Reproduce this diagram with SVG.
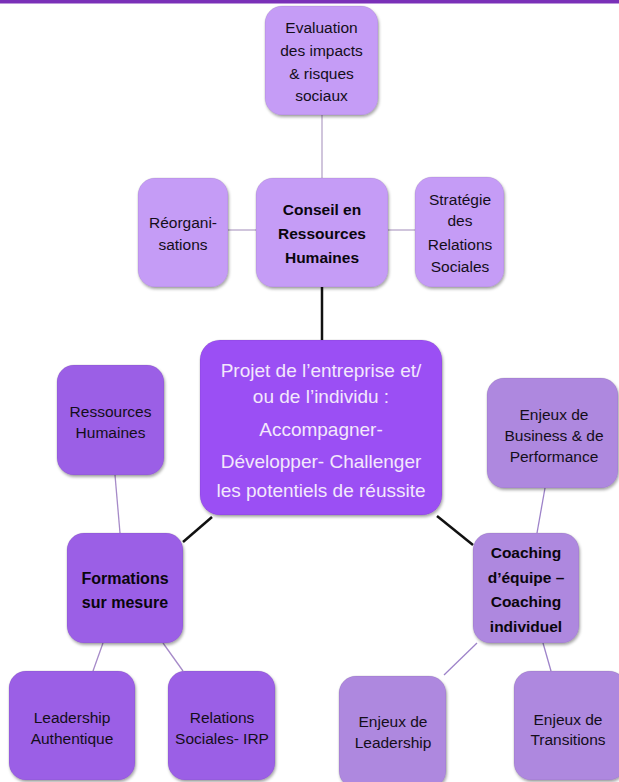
<svg xmlns="http://www.w3.org/2000/svg" width="619" height="782" viewBox="0 0 619 782">
<defs>
<filter id="sh" x="-10%" y="-10%" width="125%" height="125%">
<feDropShadow dx="1" dy="2" stdDeviation="1.6" flood-color="#000" flood-opacity="0.35"/>
</filter>
</defs>
<style>
.box{filter:url(#sh);stroke:#000;stroke-opacity:0.08;stroke-width:1}
.top{fill:#c59cf6}
.mid{fill:#9b4ff4}
.left{fill:#9b5fe6}
.right{fill:#ae88df}
text{font-family:"Liberation Sans",Arial,sans-serif;font-size:15.5px;fill:#140e1a;text-anchor:middle}
.b{font-weight:bold;font-size:15.5px;fill:#0a060d}
.c{font-size:19px;fill:#f3e8fc}
.thin{stroke:#b7a6c9;stroke-width:1.3;fill:none}
.thinl{stroke:#a68ac8;stroke-width:1.3;fill:none}
.thinr{stroke:#9d82c9;stroke-width:1.3;fill:none}
.thick{stroke:#111;stroke-width:2.5;fill:none}
</style>
<rect x="0" y="0" width="619" height="3.5" fill="#7a30b8"/>
<g id="connectors">
<line class="thin" x1="322" y1="115" x2="322" y2="178"/>
<line class="thin" x1="228" y1="230" x2="256" y2="230"/>
<line class="thin" x1="388" y1="230" x2="415" y2="230"/>
<line class="thick" x1="322" y1="287" x2="322" y2="340"/>
<line class="thick" x1="212" y1="517" x2="183" y2="542"/>
<line class="thick" x1="437" y1="516" x2="473" y2="545"/>
<line class="thinl" x1="115" y1="475" x2="120" y2="533"/>
<line class="thinl" x1="103" y1="643" x2="93" y2="671"/>
<line class="thinl" x1="163" y1="643" x2="183" y2="671"/>
<line class="thinr" x1="545" y1="488" x2="537" y2="533"/>
<line class="thinr" x1="477" y1="643" x2="444" y2="675"/>
<line class="thinr" x1="543" y1="643" x2="551" y2="671"/>
</g>
<g id="evaluation">
<rect class="box top" x="265" y="6" width="113" height="109" rx="17"/>
<text x="321.5" y="33">Evaluation</text>
<text x="321.5" y="56">des impacts</text>
<text x="321.5" y="79">&amp; risques</text>
<text x="321.5" y="101">sociaux</text>
</g>
<g id="reorganisations">
<rect class="box top" x="138" y="178" width="90" height="109" rx="17"/>
<text x="183" y="228">Réorgani-</text>
<text x="183" y="250">sations</text>
</g>
<g id="conseil">
<rect class="box top" x="256" y="178" width="132" height="109" rx="17"/>
<text class="b" x="322" y="215">Conseil en</text>
<text class="b" x="322" y="239">Ressources</text>
<text class="b" x="322" y="263">Humaines</text>
</g>
<g id="strategie">
<rect class="box top" x="415" y="177" width="89" height="110" rx="17"/>
<text x="460" y="205">Stratégie</text>
<text x="460" y="226">des</text>
<text x="460" y="250">Relations</text>
<text x="460" y="272">Sociales</text>
</g>
<g id="projet">
<rect class="box mid" x="200" y="340" width="242" height="175" rx="20"/>
<text class="c" x="321" y="377">Projet de l’entreprise et/</text>
<text class="c" x="321" y="403">ou de l’individu :</text>
<text class="c" x="321" y="436">Accompagner-</text>
<text class="c" x="321" y="468">Développer- Challenger</text>
<text class="c" x="321" y="497">les potentiels de réussite</text>
</g>
<g id="ressources-humaines">
<rect class="box left" x="57" y="365" width="107" height="110" rx="17"/>
<text x="110.5" y="417">Ressources</text>
<text x="110.5" y="438">Humaines</text>
</g>
<g id="formations">
<rect class="box left" x="67" y="533" width="116" height="110" rx="17"/>
<text class="b" x="125" y="584" style="font-size:16px">Formations</text>
<text class="b" x="125" y="608" style="font-size:16px">sur mesure</text>
</g>
<g id="leadership-authentique">
<rect class="box left" x="9" y="671" width="126" height="109" rx="17"/>
<text x="72" y="723">Leadership</text>
<text x="72" y="744">Authentique</text>
</g>
<g id="relations-sociales">
<rect class="box left" x="168" y="671" width="107" height="109" rx="17"/>
<text x="222" y="723">Relations</text>
<text x="222" y="744">Sociales- IRP</text>
</g>
<g id="enjeux-business">
<rect class="box right" x="487" y="378" width="131" height="110" rx="17"/>
<text x="554" y="420">Enjeux de</text>
<text x="554" y="441">Business &amp; de</text>
<text x="554" y="462">Performance</text>
</g>
<g id="coaching">
<rect class="box right" x="473" y="533" width="106" height="110" rx="17"/>
<text class="b" x="526" y="558">Coaching</text>
<text class="b" x="526" y="583">d’équipe –</text>
<text class="b" x="526" y="607">Coaching</text>
<text class="b" x="526" y="632">individuel</text>
</g>
<g id="enjeux-leadership">
<rect class="box right" x="339" y="676" width="107" height="112" rx="17"/>
<text x="393" y="727">Enjeux de</text>
<text x="393" y="748">Leadership</text>
</g>
<g id="enjeux-transitions">
<rect class="box right" x="514" y="671" width="112" height="109" rx="17"/>
<text x="568" y="725">Enjeux de</text>
<text x="568" y="745">Transitions</text>
</g>
</svg>
